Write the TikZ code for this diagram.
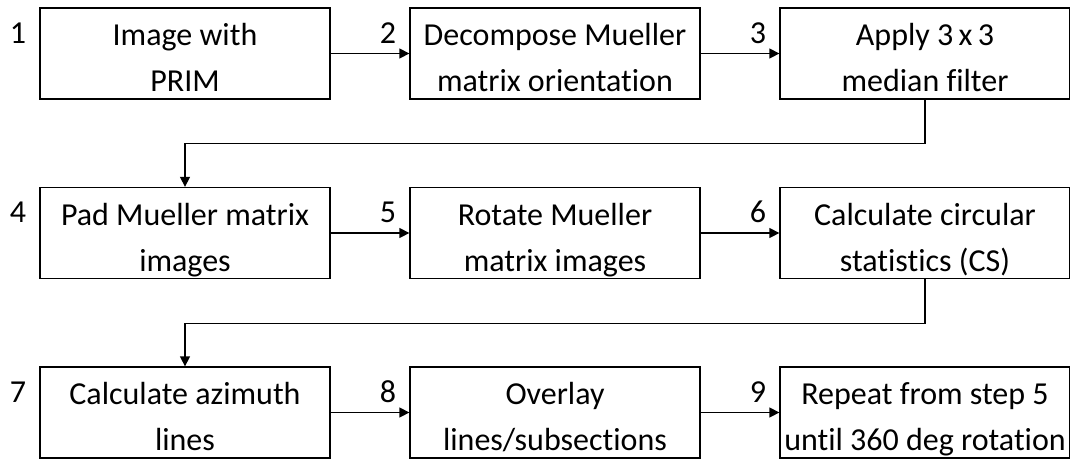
\documentclass[tikz,border=0pt]{standalone}
\usepackage{fontspec}
\setmainfont{Carlito}[Ligatures=NoCommon]
\usetikzlibrary{arrows.meta}

\newcommand{\lstrut}{\rule[-7pt]{0pt}{37pt}} % same height for every text line

\tikzset{
  stepbox/.style={draw, line width=1.3pt, minimum width=290pt, minimum height=91pt,
    inner sep=0pt},
  steptext/.style={inner sep=0pt, align=center, yshift=-3.5pt,
    font=\fontsize{32}{46}\selectfont, execute at end node=\lstrut},
  stepnum/.style={anchor=base east, inner sep=0pt, font=\fontsize{32}{38}\selectfont},
  flow/.style={line width=1.3pt, -{Triangle[length=10pt,width=10pt]}},
}

\begin{document}
\begin{tikzpicture}[x=1pt,y=1pt]
    \newcommand{\colsp}{370}   % distance between columns
    \newcommand{\rowsp}{-179.5} % distance between rows
    \newcommand{\drop}{-44}    % depth of the elbow below a row

    \useasboundingbox (0,0) rectangle (1070,-459);

    % steps
    \foreach \n/\c/\r/\txt in {
        1/0/0/{Image with\\PRIM},
        2/1/0/{Decompose Mueller\\matrix orientation},
        3/2/0/{Apply 3\,x\,3\\median filter},
        4/0/1/{Pad Mueller matrix\\images},
        5/1/1/{Rotate Mueller\\matrix images},
        6/2/1/{Calculate circular\\statistics (CS)},
        7/0/2/{Calculate azimuth\\lines},
        8/1/2/{Overlay\\lines/subsections},
        9/2/2/{Repeat from step 5\\until 360 deg rotation}}
    {
        \node[stepbox, label={[steptext, name=t\n]center:\lstrut\txt}] (b\n)
            at (185+\c*\colsp, -53.5+\r*\rowsp) {};
        \node[stepnum] (n\n) at ([xshift=-13pt,yshift=-36pt]b\n.north west) {\n};
    }

    % arrows within a row
    \foreach \a/\b in {1/2,2/3,4/5,5/6,7/8,8/9}
        \draw[flow] (b\a) -- (b\b);

    % arrows to the next row
    \draw[flow] (b3.south) -- ([yshift=\drop pt]b3.south) -| (b4.north);
    \draw[flow] (b6.south) -- ([yshift=\drop pt]b6.south) -| (b7.north);
\end{tikzpicture}
\end{document}
